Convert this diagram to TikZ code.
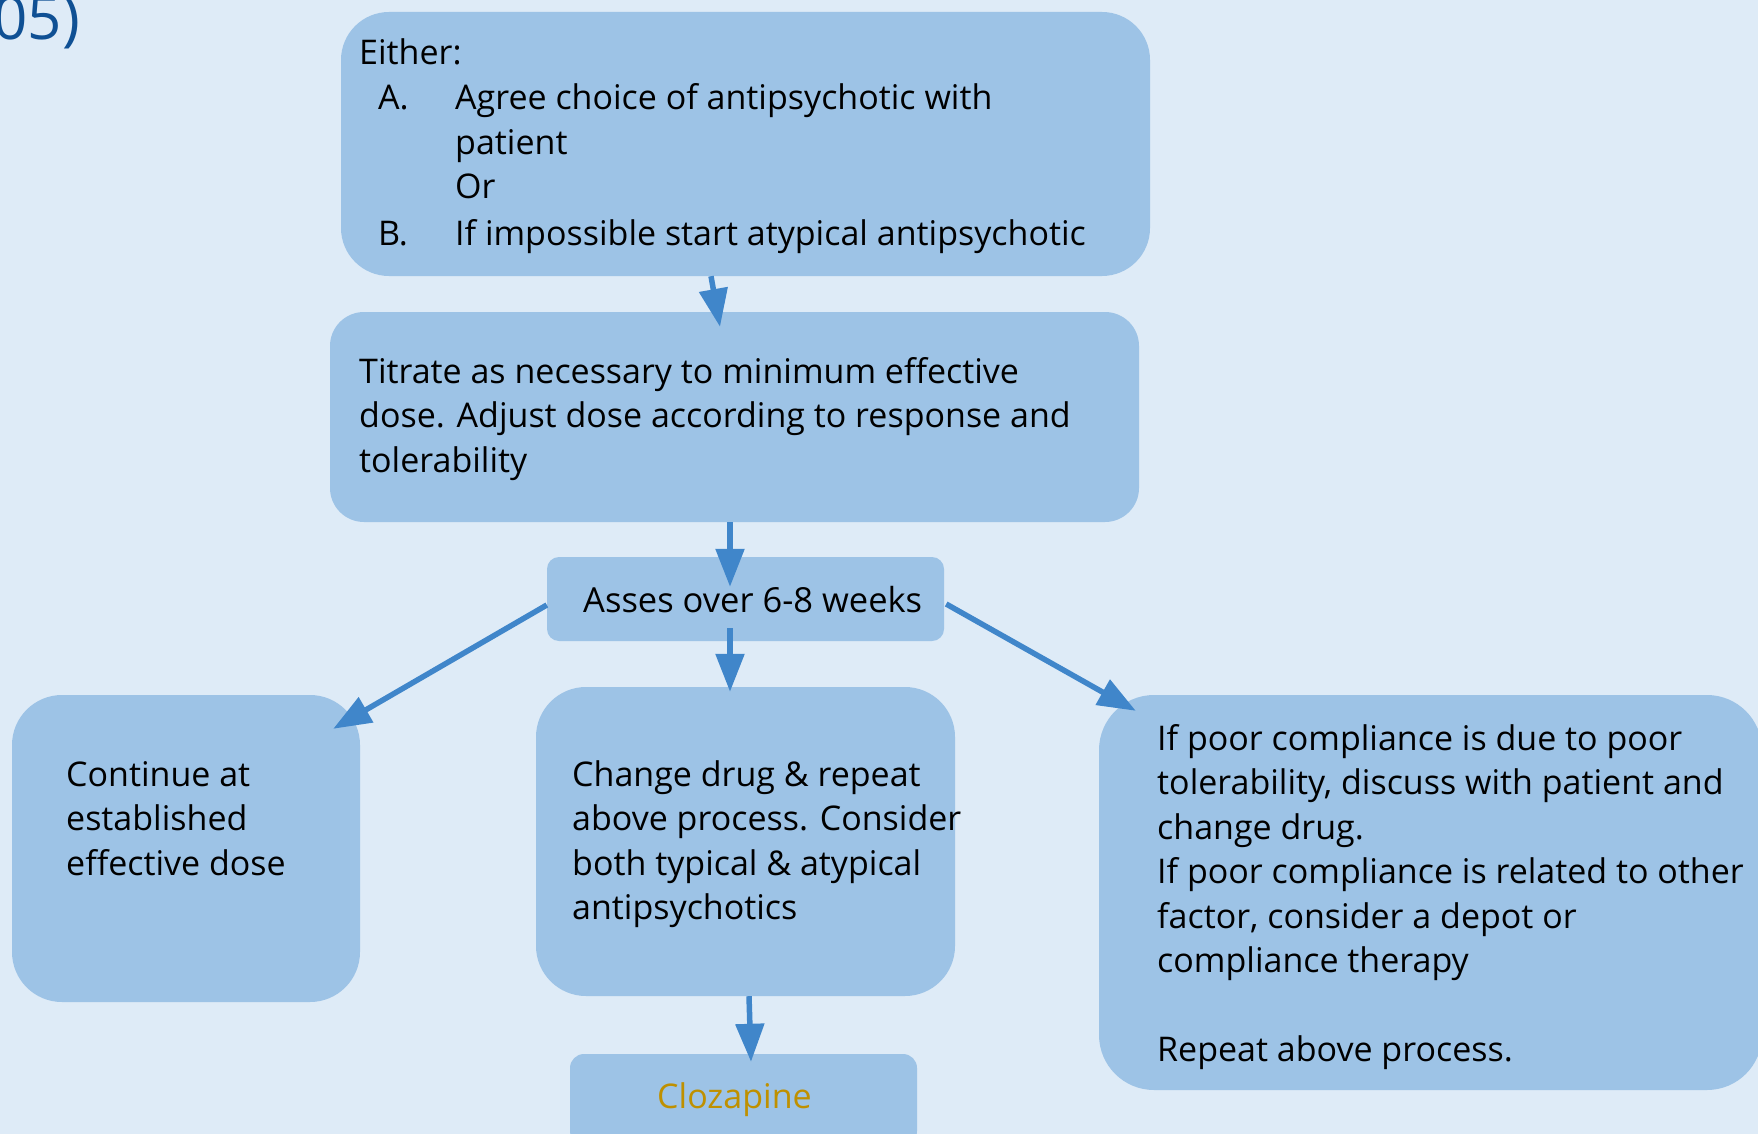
\documentclass[tikz,border=0pt]{standalone}
\usepackage{fontspec}
\setmainfont{Open Sans}
\usetikzlibrary{arrows.meta}
\definecolor{bgblue}{RGB}{222,235,247}
\definecolor{boxblue}{RGB}{157,195,230}
\definecolor{arrblue}{RGB}{64,134,202}
\definecolor{titleblue}{RGB}{15,80,148}
\definecolor{gold}{RGB}{191,144,0}
\begin{document}
\begin{tikzpicture}[x=1pt,y=-1pt,
  box/.style={fill=boxblue,draw=none,inner sep=0pt,rectangle},
  txt/.style={anchor=base west,inner sep=0pt,font=\fontsize{34}{44.5}\selectfont},
  arr/.style={draw=arrblue,line width=5.5pt,-{Triangle[length=38pt,width=28pt]}}]
\useasboundingbox (0,0) rectangle (1758,1134);
\fill[bgblue] (0,0) rectangle (1758,1134);
\begin{scope}
\clip (0,0) rectangle (1758,1134);
\node[anchor=base east,inner sep=0pt,text=titleblue,font=\fontsize{60}{70}\selectfont] (yr) at (80,40) {05)};
% boxes
\node[box,rounded corners=48pt,minimum width=809pt,minimum height=264pt] (top) at (745.5,144) {};
\node[box,rounded corners=34pt,minimum width=809pt,minimum height=210pt] (titrate) at (734.5,417) {};
\node[box,rounded corners=12pt,minimum width=397pt,minimum height=84pt] (asses) at (745.5,599) {};
\node[box,rounded corners=50pt,minimum width=348pt,minimum height=307pt] (cont) at (186,848.5) {};
\node[box,rounded corners=50pt,minimum width=419pt,minimum height=309pt] (change) at (745.5,841.5) {};
\node[box,rounded corners=55pt,minimum width=663pt,minimum height=395pt] (right) at (1430.5,892.5) {};
\node[box,rounded corners=14pt,minimum width=347pt,minimum height=91pt] (cloz) at (743.5,1099.5) {};
% texts
\node[txt] (t0) at (359,65) {Either:};
\node[txt] (tA) at (378,110) {A.};
\node[txt] (tAt) at (455,110) {\parbox[t]{680pt}{\raggedright Agree choice of antipsychotic with\\patient\\Or}};
\node[txt] (tB) at (378,245) {B.};
\node[txt] (tBt) at (455,245) {If impossible start atypical antipsychotic};
\node[txt] (ttit) at (359,383) {\parbox[t]{760pt}{\raggedright Titrate as necessary to minimum effective\\dose. Adjust dose according to response and\\tolerability}};
\node[txt,font=\fontsize{34.5}{44.5}\selectfont] (tas) at (583,612) {Asses over 6-8 weeks};
\node[txt] (tcont) at (66,786) {\parbox[t]{300pt}{\raggedright Continue at\\established\\effective dose}};
\node[txt] (tch) at (572,786) {\parbox[t]{420pt}{\raggedright Change drug \& repeat\\above process. Consider\\both typical \& atypical\\antipsychotics}};
\node[txt] (tr) at (1157,750) {\parbox[t]{640pt}{\raggedright If poor compliance is due to poor\\tolerability, discuss with patient and\\change drug.\\If poor compliance is related to other\\factor, consider a depot or\\compliance therapy\\[44.5pt]Repeat above process.}};
\node[txt,text=gold] (tcl) at (657,1108) {Clozapine};
% arrows
\draw[arr] ([xshift=-34.5pt]top.south) -- ([xshift=-14.5pt,yshift=-15pt]titrate.north);
\draw[arr] ([xshift=-4.5pt]titrate.south) -- ([xshift=-15.5pt,yshift=-30pt]asses.north);
\draw[arr] ([xshift=-15.5pt,yshift=13pt]asses.south) -- ([xshift=-15.5pt,yshift=-5pt]change.north);
\draw[arr] ([yshift=-6pt]asses.west) -- ([xshift=-27pt,yshift=-34pt]cont.north east);
\draw[arr] ([xshift=2pt,yshift=-5pt]asses.east) -- ([xshift=37pt,yshift=-16pt]right.north west);
\draw[arr] ([xshift=3.5pt]change.south) -- ([xshift=7.5pt,yshift=-8pt]cloz.north);
\end{scope}
\end{tikzpicture}
\end{document}
